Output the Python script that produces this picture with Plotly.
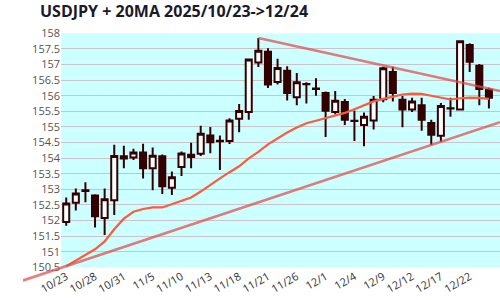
import plotly.graph_objects as go

dates = ["10/23","10/24","10/27","10/28","10/29","10/30","10/31","11/3","11/4","11/5",
         "11/6","11/7","11/10","11/11","11/12","11/13","11/14","11/17","11/18","11/19",
         "11/20","11/21","11/24","11/25","11/26","11/27","11/28","12/1","12/2","12/3",
         "12/4","12/5","12/8","12/9","12/10","12/11","12/12","12/15","12/16","12/17",
         "12/18","12/19","12/22","12/23","12/24"]
opens  = [151.95,152.57,152.97,152.80,152.08,152.65,153.99,154.02,154.18,153.68,
          154.06,153.05,153.72,154.04,154.14,154.73,154.56,154.55,155.26,155.48,
          157.07,157.41,156.44,156.80,155.95,156.38,156.23,156.09,155.48,155.80,
          155.20,155.06,155.21,155.89,156.76,155.87,155.56,155.70,155.13,154.72,
          155.60,155.56,157.63,156.96,156.19]
highs  = [152.74,153.03,153.23,152.84,153.03,154.43,154.40,154.30,154.46,154.34,
          154.12,153.57,154.21,154.49,155.04,155.00,154.73,155.28,155.74,157.16,
          157.85,157.52,157.19,156.95,156.73,156.43,156.56,156.14,156.15,155.90,
          155.53,155.46,155.99,156.93,156.93,155.99,155.94,155.94,155.23,155.77,
          155.94,157.77,157.68,157.02,156.26]
lows   = [151.83,152.32,152.59,151.78,151.54,152.18,153.68,153.94,153.35,152.97,
          152.85,152.82,153.43,153.68,154.07,154.16,153.62,154.45,154.83,155.23,
          156.92,156.25,156.36,155.85,155.70,155.75,156.00,154.68,155.41,155.06,
          154.55,154.38,154.92,155.79,155.82,154.99,155.48,154.88,154.42,154.53,
          155.33,155.53,156.76,155.70,155.59]
closes = [152.55,152.87,152.95,152.14,152.68,154.07,154.06,154.18,153.68,154.08,
          153.10,153.39,154.15,154.11,154.78,154.51,154.54,155.21,155.51,157.16,
          157.44,156.36,156.89,156.09,156.43,156.37,156.22,155.52,155.84,155.23,
          155.19,155.33,155.87,156.88,156.09,155.56,155.82,155.23,154.75,155.67,
          155.59,157.75,157.09,156.22,155.94]
ma20   = [150.54,150.72,150.90,151.08,151.33,151.72,152.06,152.28,152.37,152.42,
          152.42,152.53,152.63,152.74,152.93,153.15,153.35,153.55,153.74,153.99,
          154.20,154.44,154.64,154.82,154.98,155.12,155.20,155.28,155.36,155.45,
          155.57,155.70,155.82,155.90,155.97,156.04,156.07,156.06,156.00,155.94,
          155.88,155.92,155.94,155.93,155.90]

tick_idx = list(range(0, 43, 3))
tick_text = [dates[i] for i in tick_idx]
y_ticks = [150.5 + 0.5 * k for k in range(16)]

# trendlines (index, price)
upper_pts = ([20, 45.15], [157.85, 156.15])
lower_pts = ([-4.5, 45.15], [150.54 - 4.5 * 0.1021, 150.54 + 45.15 * 0.1021])

idx = list(range(len(dates)))

# pixel geometry
W, H = 500, 300
px_left, px_right = 40, 500
px_top, px_bot = 26.7, 273.0
x0_px, dx_px = 45.3, 10.07
y_min, y_max = 150.5, 158.0
ppu = (px_bot - px_top) / (y_max - y_min)

def idx_at(p):
    return (p - x0_px) / dx_px

def price_at(p):
    return y_max - (p - px_top) / ppu

dark = "#330000"
trend_col = "rgba(228,72,72,0.72)"
fig = go.Figure()
fig.add_trace(go.Candlestick(
    x=idx, open=opens, high=highs, low=lows, close=closes,
    increasing=dict(line=dict(color=dark, width=2), fillcolor="white"),
    decreasing=dict(line=dict(color=dark, width=2), fillcolor=dark),
    whiskerwidth=0, showlegend=False, xaxis="x", yaxis="y"))
fig.add_trace(go.Scatter(x=idx, y=ma20, mode="lines",
                         line=dict(color="#ff5a3c", width=2.2),
                         showlegend=False, xaxis="x", yaxis="y"))
fig.add_trace(go.Scatter(x=upper_pts[0], y=upper_pts[1], mode="lines",
                         line=dict(color=trend_col, width=2.5),
                         showlegend=False, xaxis="x2", yaxis="y2"))
fig.add_trace(go.Scatter(x=lower_pts[0], y=lower_pts[1], mode="lines",
                         line=dict(color=trend_col, width=2.5),
                         showlegend=False, xaxis="x2", yaxis="y2"))

fig.update_layout(
    width=W, height=H,
    margin=dict(l=0, r=0, t=0, b=0),
    paper_bgcolor="white",
    plot_bgcolor="rgba(0,0,0,0)",
    boxgap=0.1,
    font=dict(family="Open Sans, Noto Sans, sans-serif", size=11, color="#555"),
    title=dict(text="<b>USDJPY + 20MA 2025/10/23->12/24</b>",
               x=px_left / W, xanchor="left", y=1 - 11 / H, yanchor="middle",
               font=dict(size=16, color="#1a1a2a")),
    xaxis=dict(domain=[px_left / W, px_right / W],
               range=[idx_at(px_left), idx_at(px_right)],
               tickmode="array", tickvals=tick_idx, ticktext=tick_text,
               tickangle=-30, showgrid=False, zeroline=False, showline=False,
               rangeslider=dict(visible=False), anchor="y",
               tickfont=dict(size=11, color="#333")),
    yaxis=dict(domain=[1 - px_bot / H, 1 - px_top / H],
               range=[y_min, y_max], tickmode="array", tickvals=y_ticks,
               showgrid=True, gridcolor="#cbc3c8", gridwidth=1.3,
               zeroline=False, showline=False, anchor="x",
               tickfont=dict(size=11, color="#555")),
    xaxis2=dict(domain=[0, 1], range=[idx_at(0), idx_at(W)], visible=False,
                anchor="y2"),
    yaxis2=dict(domain=[0, 1], range=[price_at(H), price_at(0)], visible=False,
                anchor="x2"),
    shapes=[dict(type="rect", xref="x domain", yref="y domain",
                 x0=0, x1=1, y0=0, y1=1, fillcolor="#ccffff",
                 line=dict(width=0), layer="below")],
)

fig.write_html("out.html")
